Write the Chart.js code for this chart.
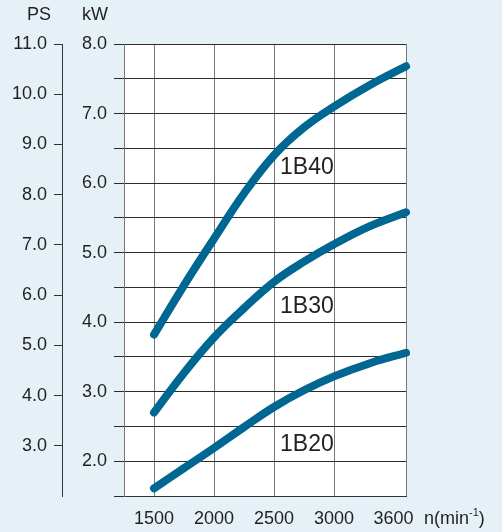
<!DOCTYPE html>
<html>
<head>
<meta charset="utf-8">
<script src="https://cdn.jsdelivr.net/npm/chart.js@4.4.1/dist/chart.umd.min.js"></script>
<style>
  html, body { margin: 0; padding: 0; background: #e5f1f7; }
  #wrap { width: 502px; height: 532px; }
</style>
</head>
<body>
<div id="wrap"><canvas id="chart" width="502" height="532"></canvas></div>
<script>
// engine speed (min-1) and output (kW)
const rpm = [1500, 1750, 2000, 2250, 2500, 2750, 3000, 3300, 3600];
const kw1B40 = [3.82, 4.53, 5.20, 5.85, 6.40, 6.80, 7.10, 7.41, 7.68];
const kw1B30 = [2.70, 3.27, 3.78, 4.20, 4.58, 4.87, 5.12, 5.38, 5.58];
const kw1B20 = [1.61, 1.90, 2.19, 2.49, 2.78, 3.02, 3.22, 3.41, 3.56];
const seriesNames = ['1B40', '1B30', '1B20'];

const xTicks = [1500, 2000, 2500, 3000, 3600];
const psTicks = [3, 4, 5, 6, 7, 8, 9, 10, 11];

// where the model names sit (rpm, kW)
const labelRpm = 2550;
const labelKw = [6.22, 4.23, 2.24];

const textColor = '#231f20';
const lineColor = '#006792';
const fontFamily = "'Liberation Sans', Arial, sans-serif";

Chart.defaults.font.family = fontFamily;
Chart.defaults.color = textColor;

const toPoints = (ys) => rpm.map((x, i) => ({ x: x, y: ys[i] }));

const bgPlugin = {
  id: 'bg',
  beforeDraw(chart) {
    const ctx = chart.ctx;
    const a = chart.chartArea;
    ctx.save();
    ctx.fillStyle = '#e5f1f7';
    ctx.fillRect(0, 0, chart.width, chart.height);
    ctx.fillStyle = '#ffffff';
    ctx.fillRect(a.left, a.top, a.right - a.left, a.bottom - a.top);
    ctx.restore();
  }
};

const textPlugin = {
  id: 'texts',
  afterDraw(chart) {
    const ctx = chart.ctx;
    const x = chart.scales.x;
    const y = chart.scales.y;
    ctx.save();
    ctx.fillStyle = textColor;
    ctx.textBaseline = 'middle';

    // model names
    ctx.font = '23px ' + fontFamily;
    ctx.textAlign = 'left';
    seriesNames.forEach((name, i) => {
      ctx.fillText(name, x.getPixelForValue(labelRpm), y.getPixelForValue(labelKw[i]));
    });

    // axis units
    ctx.font = '18px ' + fontFamily;
    ctx.textAlign = 'center';
    ctx.fillText('PS', 39, 15);
    ctx.fillText('kW', 95, 15);

    // n(min-1)
    ctx.textAlign = 'left';
    let px = 424;
    const py = 519;
    ctx.fillText('n(min', px, py);
    px += ctx.measureText('n(min').width;
    ctx.font = '11px ' + fontFamily;
    ctx.fillText('-1', px, py - 6);
    px += ctx.measureText('-1').width;
    ctx.font = '18px ' + fontFamily;
    ctx.fillText(')', px, py);
    ctx.restore();
  }
};

const makeSet = (name, ys) => ({
  label: name,
  data: toPoints(ys),
  borderColor: lineColor,
  borderWidth: 8,
  borderCapStyle: 'round',
  borderJoinStyle: 'round',
  pointRadius: 0,
  tension: 0.4,
  fill: false,
  clip: false
});

new Chart(document.getElementById('chart'), {
  type: 'line',
  data: {
    datasets: [
      makeSet(seriesNames[0], kw1B40),
      makeSet(seriesNames[1], kw1B30),
      makeSet(seriesNames[2], kw1B20)
    ]
  },
  plugins: [bgPlugin, textPlugin],
  options: {
    responsive: false,
    animation: false,
    devicePixelRatio: 1,
    layout: { padding: { top: 44, right: 96, bottom: 0, left: 0 } },
    plugins: {
      legend: { display: false },
      tooltip: { enabled: false }
    },
    scales: {
      x: {
        type: 'linear',
        position: 'bottom',
        min: 1250,
        max: 3600,
        afterBuildTicks: (s) => { s.ticks = xTicks.map(v => ({ value: v })); },
        afterFit: (s) => { s.height = 36; },
        ticks: {
          font: { size: 18 },
          color: textColor,
          padding: 12,
          autoSkip: false,
          maxRotation: 0,
          // last label is pushed left in the original to leave room for the unit
          callback: (v) => v === 3600 ? '3600     ' : String(v)
        },
        grid: { color: '#777777', lineWidth: 1, drawTicks: false },
        border: { color: '#333333', width: 1 }
      },
      y: {
        position: 'left',
        weight: 0,
        min: 1.5,
        max: 8,
        afterFit: (s) => { s.width = 62; },
        ticks: {
          stepSize: 0.5,
          autoSkip: false,
          font: { size: 18 },
          color: textColor,
          padding: 7,
          callback: (v) => Number.isInteger(v) ? v.toFixed(1) : ''
        },
        grid: { color: '#2b2b2b', lineWidth: 1, tickLength: 10 },
        border: { color: '#777777', width: 1 }
      },
      ps: {
        position: 'left',
        weight: 1,
        min: 2,
        max: 11,
        afterBuildTicks: (s) => { s.ticks = psTicks.map(v => ({ value: v })); },
        afterFit: (s) => { s.width = 62; },
        ticks: {
          autoSkip: false,
          font: { size: 18 },
          color: textColor,
          padding: 7,
          callback: (v) => Number(v).toFixed(1)
        },
        grid: { drawOnChartArea: false, color: '#333333', tickLength: 8 },
        border: { color: '#333333', width: 1 }
      }
    }
  }
});
</script>
</body>
</html>
